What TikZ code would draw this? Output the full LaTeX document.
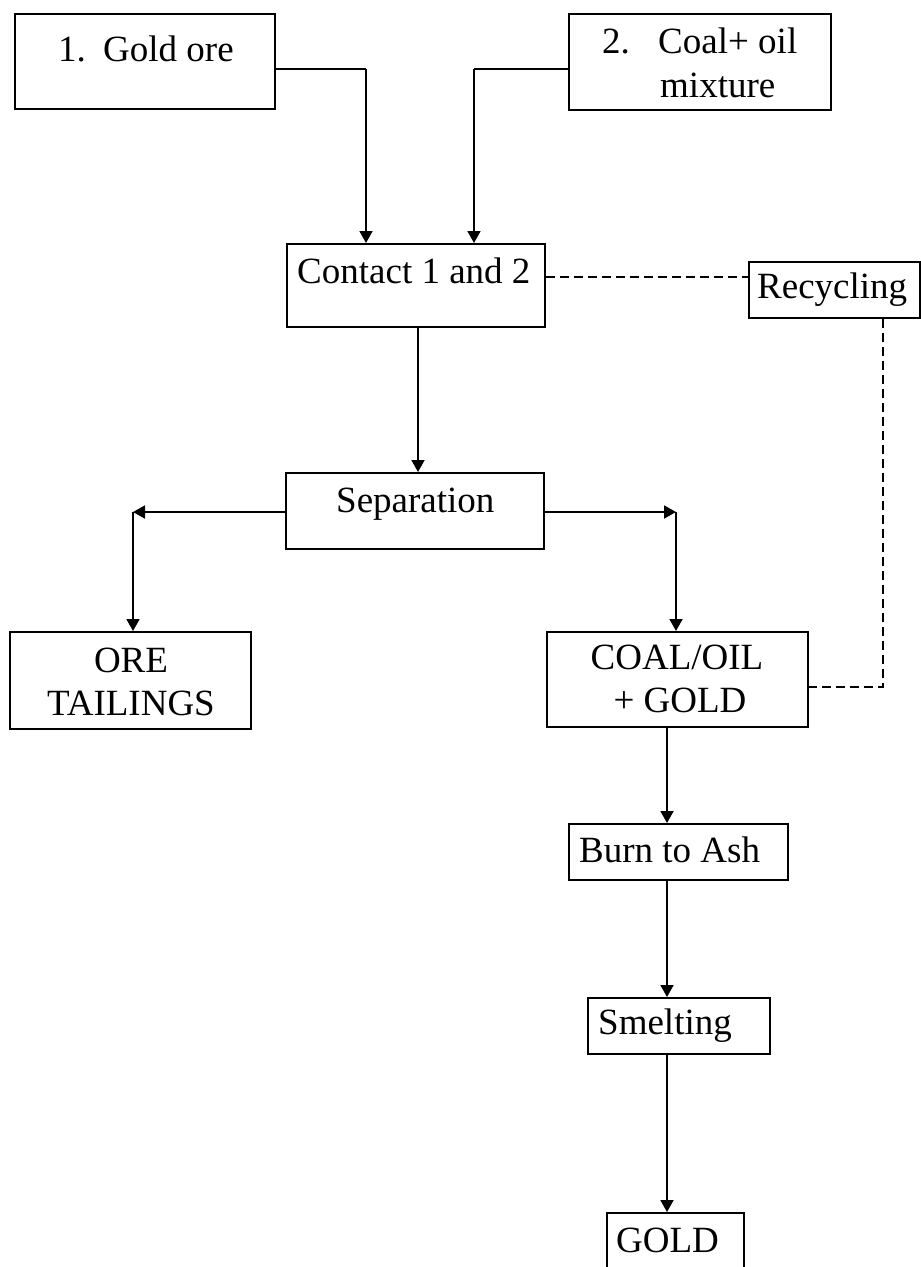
\documentclass[tikz,border=0pt]{standalone}
\usepackage{fontspec}
\setmainfont{Liberation Serif}
\usetikzlibrary{arrows.meta}
\begin{document}
\begin{tikzpicture}[x=1pt,y=-1pt,
  box/.style={draw, line width=2pt, rectangle, inner sep=0pt},
  txt/.style={inner sep=0pt, font=\fontsize{37}{44}\selectfont},
  flow/.style={line width=1.8pt, -{Triangle[length=12pt,width=13pt]}},
  link/.style={line width=1.8pt},
  recyc/.style={line width=1.5pt, dash pattern=on 9pt off 5pt}]
\useasboundingbox (0,0) rectangle (921,1267);
\clip (0,0) rectangle (921,1267);
\fill[white] (0,0) rectangle (921,1267);

% process boxes
\node[box, minimum width=260pt, minimum height=95pt] (ore1) at (145,61.5) {};
\node[box, minimum width=262pt, minimum height=96pt] (mix2) at (700,62) {};
\node[box, minimum width=258pt, minimum height=83pt] (contact) at (416,285.5) {};
\node[box, minimum width=171pt, minimum height=56pt] (recycle) at (834.5,290) {};
\node[box, minimum width=258pt, minimum height=76pt] (sep) at (415,511) {};
\node[box, minimum width=241pt, minimum height=97pt] (tail) at (130.5,680.5) {};
\node[box, minimum width=261pt, minimum height=95pt] (coal) at (677.5,679.5) {};
\node[box, minimum width=219pt, minimum height=56pt] (burn) at (678.5,852) {};
\node[box, minimum width=182pt, minimum height=56pt] (smelt) at (679,1026) {};
\node[box, minimum width=137pt, minimum height=74pt] (gold) at (675.5,1250) {};

% labels
\node[txt, anchor=base west] (t1a) at (58,61) {1.};
\node[txt, anchor=base west] (t1b) at (103,61) {Gold ore};
\node[txt, anchor=base west] (t2a) at (602,53) {2.};
\node[txt, anchor=base west] (t2b) at (658,53) {Coal+ oil};
\node[txt, anchor=base west] (t2c) at (660,97) {mixture};
\node[txt, anchor=base west] (tc) at (297,283) {Contact 1 and 2};
\node[txt, anchor=base west] (tr) at (757,298) {Recycling};
\node[txt, anchor=base west] (ts) at (336,512) {Separation};
\node[txt, anchor=base] (to1) at (131,672) {ORE};
\node[txt, anchor=base] (to2) at (131,715) {TAILINGS};
\node[txt, anchor=base] (tg1) at (677,669) {COAL/OIL};
\node[txt, anchor=base] (tg2) at (680,712) {+ GOLD};
\node[txt, anchor=base west] (tb) at (579,862) {Burn to Ash};
\node[txt, anchor=base west] (tm) at (598,1034) {Smelting};
\node[txt, anchor=base west] (tgold) at (616,1252) {GOLD};

% routing points
\coordinate (in1) at (366,69);
\coordinate (in2) at (474,69);
\coordinate (down) at (418,0);
\coordinate (left) at (133,512);
\coordinate (right) at (676,512);
\coordinate (spine) at (667,0);
\coordinate (dashy) at (0,277);
\coordinate (back) at (883,687);

% feeds into contact
\draw[link] (ore1.east |- in1) -- (in1);
\draw[flow] (in1) -- (contact.north -| in1);
\draw[link] (mix2.west |- in2) -- (in2);
\draw[flow] (in2) -- (contact.north -| in2);

% contact to separation
\draw[flow] (contact.south -| down) -- (sep.north -| down);

% separation split
\draw[flow] (sep.west |- left) -- (left);
\draw[flow] (left) -- (tail.north -| left);
\draw[flow] (sep.east |- right) -- (right);
\draw[flow] (right) -- (coal.north -| right);

% gold recovery chain
\draw[flow] (coal.south -| spine) -- (burn.north -| spine);
\draw[flow] (burn.south -| spine) -- (smelt.north -| spine);
\draw[flow] (smelt.south -| spine) -- (gold.north -| spine);

% recycle loop
\draw[recyc] (contact.east |- dashy) -- (recycle.west |- dashy);
\draw[recyc] (recycle.south -| back) -- (back) -- (coal.east |- back);
\end{tikzpicture}
\end{document}
